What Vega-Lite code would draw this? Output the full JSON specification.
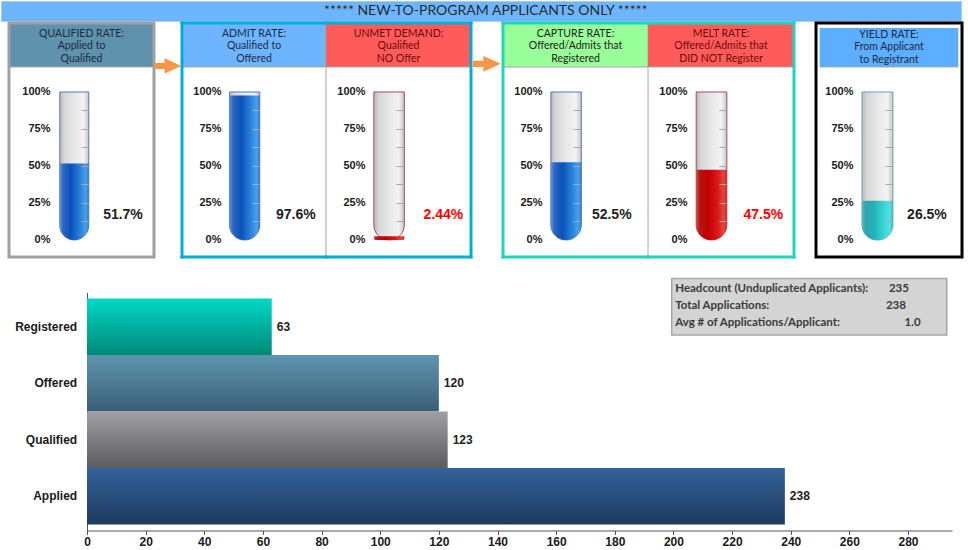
{
"$schema":"https://vega.github.io/schema/vega-lite/v6.json",
"padding":0,
"background":"white",
"config":{"view":{"stroke":null}},
"datasets":{
"rates":[
{"panel":"qualified","title":"QUALIFIED RATE:\nApplied to\nQualified","rate":0.5168},
{"panel":"admit","title":"ADMIT RATE:\nQualified to\nOffered","rate":0.9756},
{"panel":"unmet","title":"UNMET DEMAND:\nQualified\nNO Offer","rate":0.02439},
{"panel":"capture","title":"CAPTURE RATE:\nOffered/Admits that\nRegistered","rate":0.525},
{"panel":"melt","title":"MELT RATE:\nOffered/Admits that\nDID NOT Register","rate":0.475},
{"panel":"yield","title":"YIELD RATE:\nFrom Applicant\nto Registrant","rate":0.2647}
],
"funnel":[{"stage":"Registered","count":63},{"stage":"Offered","count":120},{"stage":"Qualified","count":123},{"stage":"Applied","count":238}],
"stats":[{"line":1,"label":"Headcount (Unduplicated Applicants):","value":"235"},{"line":2,"label":"Total Applications:","value":"238"},{"line":3,"label":"Avg # of Applications/Applicant:","value":"1.0"}]
},
"columns":1,
"spacing":17.5,
"align":"none",
"concat":[
{"spacing":2,"bounds":"flush","vconcat":[
{"width":960,"height":20,"view":{"fill":"#6DB6FF","stroke":"#A8CCEE"},"data":{"values":[{"banner":"***** NEW-TO-PROGRAM APPLICANTS ONLY *****"}]},"mark":{"type":"text","font":"Lato","fontSize":14,"color":"#2A2A2A","baseline":"middle"},"encoding":{"x":{"datum":0.505,"type":"quantitative","scale":{"domain":[0,1]},"axis":null},"y":{"datum":0.5,"type":"quantitative","scale":{"domain":[0,1]},"axis":null},"text":{"field":"banner"}}},
{"spacing":0,"bounds":"flush","hconcat":[
{"width":8,"height":234,"data":{"values":[{}]},"mark":{"type":"point","opacity":0},"encoding":{"x":{"datum":0.5,"type":"quantitative","scale":{"domain":[0,1]},"axis":null},"y":{"datum":0.5,"type":"quantitative","scale":{"domain":[0,1]},"axis":null}}},
{"width":145,"height":234,"data":{"name":"rates"},"transform":[{"filter":"datum.panel==='qualified'"}],"resolve":{"axis":{"y":"independent"}},"layer":[
{"mark":{"type":"rect","fill":"#5F93AD"},"encoding":{"x":{"datum":0,"type":"quantitative","scale":{"domain":[0,1],"nice":false,"zero":false},"axis":null},"x2":{"datum":1},"y":{"datum":1.169,"type":"quantitative","scale":{"domain":[-0.115,1.466],"nice":false,"zero":false},"axis":null},"y2":{"datum":1.466}}},
{"mark":{"type":"rule","stroke":"#A6A6A6","strokeWidth":1},"encoding":{"x":{"datum":0,"type":"quantitative","axis":null},"x2":{"datum":1},"y":{"datum":1.169,"type":"quantitative","axis":null}}},
{"mark":{"type":"text","font":"Lato","fontSize":10.5,"lineBreak":"\n","lineHeight":12.5,"color":"#1B2A40","align":"center","baseline":"middle"},"encoding":{"x":{"datum":0.5,"type":"quantitative","axis":null},"y":{"datum":1.392,"type":"quantitative","axis":null},"text":{"field":"title"}}},
{"mark":{"type":"rect","fill":{"gradient":"linear","x1":0,"y1":0,"x2":1,"y2":0,"stops":[{"offset":0,"color":"#B8B8B8"},{"offset":0.15,"color":"#D6D6D6"},{"offset":0.5,"color":"#E8E8E8"},{"offset":0.82,"color":"#F3F3F3"},{"offset":1,"color":"#C6C6C6"}]},"stroke":"#5877B8","strokeWidth":1,"cornerRadiusBottomLeft":15,"cornerRadiusBottomRight":15},"encoding":{"x":{"datum":0.35,"type":"quantitative","axis":null},"x2":{"datum":0.55},"y":{"datum":0,"type":"quantitative","axis":{"orient":"left","values":[0,0.25,0.5,0.75,1],"format":".0%","offset":-43,"domain":false,"ticks":false,"tickSize":0,"labelPadding":2,"grid":false,"title":null,"labelFont":"Liberation Sans","labelFontWeight":"bold","labelFontSize":11,"labelColor":"#1A1A1A"}},"y2":{"datum":1}}},
{"mark":{"type":"rect","fill":{"gradient":"linear","x1":0,"y1":0,"x2":1,"y2":0,"stops":[{"offset":0,"color":"#6A93D2"},{"offset":0.12,"color":"#2B66C3"},{"offset":0.38,"color":"#0A52B8"},{"offset":0.72,"color":"#2C84DC"},{"offset":0.9,"color":"#4AA1EC"},{"offset":1,"color":"#3579CC"}]},"cornerRadiusBottomLeft":15,"cornerRadiusBottomRight":15},"encoding":{"x":{"datum":0.35,"type":"quantitative","axis":null},"x2":{"datum":0.55},"y":{"datum":0,"type":"quantitative","axis":{"orient":"right","values":[0.125,0.25,0.375,0.5,0.625,0.75,0.875],"labels":false,"domain":false,"ticks":true,"tickSize":7,"tickColor":"#A8A8A8","tickWidth":1,"grid":false,"title":null,"offset":-73,"zindex":1}},"y2":{"field":"rate","type":"quantitative"}}},
{"mark":{"type":"text","font":"Liberation Sans","fontSize":14,"fontWeight":"bold","color":"#222222","align":"center","baseline":"middle"},"encoding":{"x":{"datum":0.786,"type":"quantitative","axis":null},"y":{"datum":0.169,"type":"quantitative","axis":null},"text":{"field":"rate","type":"quantitative","format":".3p"}}},
{"mark":{"type":"rect","fill":"transparent","stroke":"#A0A0A0","strokeWidth":3},"encoding":{"x":{"datum":0,"type":"quantitative","axis":null},"x2":{"datum":1},"y":{"datum":-0.115,"type":"quantitative","axis":null},"y2":{"datum":1.466}}}
]},
{"width":28,"height":234,"data":{"values":[{}]},"mark":{"type":"point","shape":"M-1,-0.22L-0.26,-0.22L-0.26,-0.56L1,0L-0.26,0.56L-0.26,0.22L-1,0.22Z","filled":true,"fill":"#F79646","opacity":1,"size":729,"strokeWidth":0},"encoding":{"x":{"datum":0.5,"type":"quantitative","scale":{"domain":[0,1]},"axis":null},"y":{"datum":1.176,"type":"quantitative","scale":{"domain":[-0.115,1.466],"nice":false,"zero":false},"axis":null}}},
{"width":144,"height":234,"data":{"name":"rates"},"transform":[{"filter":"datum.panel==='admit'"}],"resolve":{"axis":{"y":"independent"}},"layer":[
{"mark":{"type":"rect","fill":"#6DB5FF"},"encoding":{"x":{"datum":0,"type":"quantitative","scale":{"domain":[0,1],"nice":false,"zero":false},"axis":null},"x2":{"datum":1},"y":{"datum":1.169,"type":"quantitative","scale":{"domain":[-0.115,1.466],"nice":false,"zero":false},"axis":null},"y2":{"datum":1.466}}},
{"mark":{"type":"rule","stroke":"#A6A6A6","strokeWidth":1},"encoding":{"x":{"datum":0,"type":"quantitative","axis":null},"x2":{"datum":1},"y":{"datum":1.169,"type":"quantitative","axis":null}}},
{"mark":{"type":"text","font":"Lato","fontSize":10.5,"lineBreak":"\n","lineHeight":12.5,"color":"#1B2A40","align":"center","baseline":"middle"},"encoding":{"x":{"datum":0.5,"type":"quantitative","axis":null},"y":{"datum":1.392,"type":"quantitative","axis":null},"text":{"field":"title"}}},
{"mark":{"type":"rect","fill":{"gradient":"linear","x1":0,"y1":0,"x2":1,"y2":0,"stops":[{"offset":0,"color":"#B8B8B8"},{"offset":0.15,"color":"#D6D6D6"},{"offset":0.5,"color":"#E8E8E8"},{"offset":0.82,"color":"#F3F3F3"},{"offset":1,"color":"#C6C6C6"}]},"stroke":"#5877B8","strokeWidth":1,"cornerRadiusBottomLeft":15,"cornerRadiusBottomRight":15},"encoding":{"x":{"datum":0.33,"type":"quantitative","axis":null},"x2":{"datum":0.54},"y":{"datum":0,"type":"quantitative","axis":{"orient":"left","values":[0,0.25,0.5,0.75,1],"format":".0%","offset":-41,"domain":false,"ticks":false,"tickSize":0,"labelPadding":2,"grid":false,"title":null,"labelFont":"Liberation Sans","labelFontWeight":"bold","labelFontSize":11,"labelColor":"#1A1A1A"}},"y2":{"datum":1}}},
{"mark":{"type":"rect","fill":{"gradient":"linear","x1":0,"y1":0,"x2":1,"y2":0,"stops":[{"offset":0,"color":"#6A93D2"},{"offset":0.12,"color":"#2B66C3"},{"offset":0.38,"color":"#0A52B8"},{"offset":0.72,"color":"#2C84DC"},{"offset":0.9,"color":"#4AA1EC"},{"offset":1,"color":"#3579CC"}]},"cornerRadiusBottomLeft":15,"cornerRadiusBottomRight":15},"encoding":{"x":{"datum":0.33,"type":"quantitative","axis":null},"x2":{"datum":0.54},"y":{"datum":0,"type":"quantitative","axis":{"orient":"right","values":[0.125,0.25,0.375,0.5,0.625,0.75,0.875],"labels":false,"domain":false,"ticks":true,"tickSize":7,"tickColor":"#A8A8A8","tickWidth":1,"grid":false,"title":null,"offset":-74,"zindex":1}},"y2":{"field":"rate","type":"quantitative"}}},
{"mark":{"type":"text","font":"Liberation Sans","fontSize":14,"fontWeight":"bold","color":"#222222","align":"center","baseline":"middle"},"encoding":{"x":{"datum":0.79,"type":"quantitative","axis":null},"y":{"datum":0.169,"type":"quantitative","axis":null},"text":{"field":"rate","type":"quantitative","format":".3p"}}},
{"mark":{"type":"rule","stroke":"#00AEDC","strokeWidth":3,"strokeCap":"square"},"encoding":{"x":{"datum":0,"type":"quantitative","axis":null},"x2":{"datum":1},"y":{"datum":1.466,"type":"quantitative","axis":null}}},
{"mark":{"type":"rule","stroke":"#00AEDC","strokeWidth":3,"strokeCap":"square"},"encoding":{"x":{"datum":0,"type":"quantitative","axis":null},"x2":{"datum":1},"y":{"datum":-0.115,"type":"quantitative","axis":null}}},
{"mark":{"type":"rule","stroke":"#00AEDC","strokeWidth":3,"strokeCap":"square"},"encoding":{"x":{"datum":0,"type":"quantitative","axis":null},"y":{"datum":-0.115,"type":"quantitative","axis":null},"y2":{"datum":1.466}}},
{"mark":{"type":"rule","stroke":"#A6A6A6","strokeWidth":1},"encoding":{"x":{"datum":1,"type":"quantitative","axis":null},"y":{"datum":-0.115,"type":"quantitative","axis":null},"y2":{"datum":1.466}}}
]},
{"width":145,"height":234,"data":{"name":"rates"},"transform":[{"filter":"datum.panel==='unmet'"}],"resolve":{"axis":{"y":"independent"}},"layer":[
{"mark":{"type":"rect","fill":"#FF5B5B"},"encoding":{"x":{"datum":0,"type":"quantitative","scale":{"domain":[0,1],"nice":false,"zero":false},"axis":null},"x2":{"datum":1},"y":{"datum":1.169,"type":"quantitative","scale":{"domain":[-0.115,1.466],"nice":false,"zero":false},"axis":null},"y2":{"datum":1.466}}},
{"mark":{"type":"rule","stroke":"#A6A6A6","strokeWidth":1},"encoding":{"x":{"datum":0,"type":"quantitative","axis":null},"x2":{"datum":1},"y":{"datum":1.169,"type":"quantitative","axis":null}}},
{"mark":{"type":"text","font":"Lato","fontSize":10.5,"lineBreak":"\n","lineHeight":12.5,"color":"#6B0A0A","align":"center","baseline":"middle"},"encoding":{"x":{"datum":0.5,"type":"quantitative","axis":null},"y":{"datum":1.392,"type":"quantitative","axis":null},"text":{"field":"title"}}},
{"mark":{"type":"rect","fill":{"gradient":"linear","x1":0,"y1":0,"x2":1,"y2":0,"stops":[{"offset":0,"color":"#B8B8B8"},{"offset":0.15,"color":"#D6D6D6"},{"offset":0.5,"color":"#E8E8E8"},{"offset":0.82,"color":"#F3F3F3"},{"offset":1,"color":"#C6C6C6"}]},"stroke":"#B04848","strokeWidth":1,"cornerRadiusBottomLeft":15,"cornerRadiusBottomRight":15},"encoding":{"x":{"datum":0.33,"type":"quantitative","axis":null},"x2":{"datum":0.54},"y":{"datum":0,"type":"quantitative","axis":{"orient":"left","values":[0,0.25,0.5,0.75,1],"format":".0%","offset":-41,"domain":false,"ticks":false,"tickSize":0,"labelPadding":2,"grid":false,"title":null,"labelFont":"Liberation Sans","labelFontWeight":"bold","labelFontSize":11,"labelColor":"#1A1A1A"}},"y2":{"datum":1}}},
{"mark":{"type":"rect","fill":{"gradient":"linear","x1":0,"y1":0,"x2":1,"y2":0,"stops":[{"offset":0,"color":"#CC5050"},{"offset":0.12,"color":"#B51515"},{"offset":0.38,"color":"#C00000"},{"offset":0.72,"color":"#DC1C1C"},{"offset":0.9,"color":"#E84444"},{"offset":1,"color":"#C42828"}]},"cornerRadiusBottomLeft":15,"cornerRadiusBottomRight":15},"encoding":{"x":{"datum":0.33,"type":"quantitative","axis":null},"x2":{"datum":0.54},"y":{"datum":0,"type":"quantitative","axis":{"orient":"right","values":[0.125,0.25,0.375,0.5,0.625,0.75,0.875],"labels":false,"domain":false,"ticks":true,"tickSize":7,"tickColor":"#A8A8A8","tickWidth":1,"grid":false,"title":null,"offset":-75,"zindex":1}},"y2":{"field":"rate","type":"quantitative"}}},
{"mark":{"type":"text","font":"Liberation Sans","fontSize":14,"fontWeight":"bold","color":"#FF0000","align":"center","baseline":"middle"},"encoding":{"x":{"datum":0.81,"type":"quantitative","axis":null},"y":{"datum":0.169,"type":"quantitative","axis":null},"text":{"field":"rate","type":"quantitative","format":".3p"}}},
{"mark":{"type":"rule","stroke":"#00AEDC","strokeWidth":3,"strokeCap":"square"},"encoding":{"x":{"datum":0,"type":"quantitative","axis":null},"x2":{"datum":1},"y":{"datum":1.466,"type":"quantitative","axis":null}}},
{"mark":{"type":"rule","stroke":"#00AEDC","strokeWidth":3,"strokeCap":"square"},"encoding":{"x":{"datum":0,"type":"quantitative","axis":null},"x2":{"datum":1},"y":{"datum":-0.115,"type":"quantitative","axis":null}}},
{"mark":{"type":"rule","stroke":"#00AEDC","strokeWidth":3,"strokeCap":"square"},"encoding":{"x":{"datum":1,"type":"quantitative","axis":null},"y":{"datum":-0.115,"type":"quantitative","axis":null},"y2":{"datum":1.466}}}
]},
{"width":32,"height":234,"data":{"values":[{}]},"mark":{"type":"point","shape":"M-1,-0.22L-0.26,-0.22L-0.26,-0.56L1,0L-0.26,0.56L-0.26,0.22L-1,0.22Z","filled":true,"fill":"#F79646","opacity":1,"size":784,"strokeWidth":0},"encoding":{"x":{"datum":0.5,"type":"quantitative","scale":{"domain":[0,1]},"axis":null},"y":{"datum":1.19,"type":"quantitative","scale":{"domain":[-0.115,1.466],"nice":false,"zero":false},"axis":null}}},
{"width":145,"height":234,"data":{"name":"rates"},"transform":[{"filter":"datum.panel==='capture'"}],"resolve":{"axis":{"y":"independent"}},"layer":[
{"mark":{"type":"rect","fill":"#99FF99"},"encoding":{"x":{"datum":0,"type":"quantitative","scale":{"domain":[0,1],"nice":false,"zero":false},"axis":null},"x2":{"datum":1},"y":{"datum":1.169,"type":"quantitative","scale":{"domain":[-0.115,1.466],"nice":false,"zero":false},"axis":null},"y2":{"datum":1.466}}},
{"mark":{"type":"rule","stroke":"#A6A6A6","strokeWidth":1},"encoding":{"x":{"datum":0,"type":"quantitative","axis":null},"x2":{"datum":1},"y":{"datum":1.169,"type":"quantitative","axis":null}}},
{"mark":{"type":"text","font":"Lato","fontSize":10.5,"lineBreak":"\n","lineHeight":12.5,"color":"#1A1A1A","align":"center","baseline":"middle"},"encoding":{"x":{"datum":0.5,"type":"quantitative","axis":null},"y":{"datum":1.392,"type":"quantitative","axis":null},"text":{"field":"title"}}},
{"mark":{"type":"rect","fill":{"gradient":"linear","x1":0,"y1":0,"x2":1,"y2":0,"stops":[{"offset":0,"color":"#B8B8B8"},{"offset":0.15,"color":"#D6D6D6"},{"offset":0.5,"color":"#E8E8E8"},{"offset":0.82,"color":"#F3F3F3"},{"offset":1,"color":"#C6C6C6"}]},"stroke":"#5877B8","strokeWidth":1,"cornerRadiusBottomLeft":15,"cornerRadiusBottomRight":15},"encoding":{"x":{"datum":0.33,"type":"quantitative","axis":null},"x2":{"datum":0.54},"y":{"datum":0,"type":"quantitative","axis":{"orient":"left","values":[0,0.25,0.5,0.75,1],"format":".0%","offset":-41,"domain":false,"ticks":false,"tickSize":0,"labelPadding":2,"grid":false,"title":null,"labelFont":"Liberation Sans","labelFontWeight":"bold","labelFontSize":11,"labelColor":"#1A1A1A"}},"y2":{"datum":1}}},
{"mark":{"type":"rect","fill":{"gradient":"linear","x1":0,"y1":0,"x2":1,"y2":0,"stops":[{"offset":0,"color":"#6A93D2"},{"offset":0.12,"color":"#2B66C3"},{"offset":0.38,"color":"#0A52B8"},{"offset":0.72,"color":"#2C84DC"},{"offset":0.9,"color":"#4AA1EC"},{"offset":1,"color":"#3579CC"}]},"cornerRadiusBottomLeft":15,"cornerRadiusBottomRight":15},"encoding":{"x":{"datum":0.33,"type":"quantitative","axis":null},"x2":{"datum":0.54},"y":{"datum":0,"type":"quantitative","axis":{"orient":"right","values":[0.125,0.25,0.375,0.5,0.625,0.75,0.875],"labels":false,"domain":false,"ticks":true,"tickSize":7,"tickColor":"#A8A8A8","tickWidth":1,"grid":false,"title":null,"offset":-75,"zindex":1}},"y2":{"field":"rate","type":"quantitative"}}},
{"mark":{"type":"text","font":"Liberation Sans","fontSize":14,"fontWeight":"bold","color":"#222222","align":"center","baseline":"middle"},"encoding":{"x":{"datum":0.75,"type":"quantitative","axis":null},"y":{"datum":0.169,"type":"quantitative","axis":null},"text":{"field":"rate","type":"quantitative","format":".3p"}}},
{"mark":{"type":"rule","stroke":"#1ED6C0","strokeWidth":3,"strokeCap":"square"},"encoding":{"x":{"datum":0,"type":"quantitative","axis":null},"x2":{"datum":1},"y":{"datum":1.466,"type":"quantitative","axis":null}}},
{"mark":{"type":"rule","stroke":"#1ED6C0","strokeWidth":3,"strokeCap":"square"},"encoding":{"x":{"datum":0,"type":"quantitative","axis":null},"x2":{"datum":1},"y":{"datum":-0.115,"type":"quantitative","axis":null}}},
{"mark":{"type":"rule","stroke":"#1ED6C0","strokeWidth":3,"strokeCap":"square"},"encoding":{"x":{"datum":0,"type":"quantitative","axis":null},"y":{"datum":-0.115,"type":"quantitative","axis":null},"y2":{"datum":1.466}}},
{"mark":{"type":"rule","stroke":"#A6A6A6","strokeWidth":1},"encoding":{"x":{"datum":1,"type":"quantitative","axis":null},"y":{"datum":-0.115,"type":"quantitative","axis":null},"y2":{"datum":1.466}}}
]},
{"width":146,"height":234,"data":{"name":"rates"},"transform":[{"filter":"datum.panel==='melt'"}],"resolve":{"axis":{"y":"independent"}},"layer":[
{"mark":{"type":"rect","fill":"#FF5B5B"},"encoding":{"x":{"datum":0,"type":"quantitative","scale":{"domain":[0,1],"nice":false,"zero":false},"axis":null},"x2":{"datum":1},"y":{"datum":1.169,"type":"quantitative","scale":{"domain":[-0.115,1.466],"nice":false,"zero":false},"axis":null},"y2":{"datum":1.466}}},
{"mark":{"type":"rule","stroke":"#A6A6A6","strokeWidth":1},"encoding":{"x":{"datum":0,"type":"quantitative","axis":null},"x2":{"datum":1},"y":{"datum":1.169,"type":"quantitative","axis":null}}},
{"mark":{"type":"text","font":"Lato","fontSize":10.5,"lineBreak":"\n","lineHeight":12.5,"color":"#6B0A0A","align":"center","baseline":"middle"},"encoding":{"x":{"datum":0.5,"type":"quantitative","axis":null},"y":{"datum":1.392,"type":"quantitative","axis":null},"text":{"field":"title"}}},
{"mark":{"type":"rect","fill":{"gradient":"linear","x1":0,"y1":0,"x2":1,"y2":0,"stops":[{"offset":0,"color":"#B8B8B8"},{"offset":0.15,"color":"#D6D6D6"},{"offset":0.5,"color":"#E8E8E8"},{"offset":0.82,"color":"#F3F3F3"},{"offset":1,"color":"#C6C6C6"}]},"stroke":"#B04848","strokeWidth":1,"cornerRadiusBottomLeft":15,"cornerRadiusBottomRight":15},"encoding":{"x":{"datum":0.33,"type":"quantitative","axis":null},"x2":{"datum":0.54},"y":{"datum":0,"type":"quantitative","axis":{"orient":"left","values":[0,0.25,0.5,0.75,1],"format":".0%","offset":-41,"domain":false,"ticks":false,"tickSize":0,"labelPadding":2,"grid":false,"title":null,"labelFont":"Liberation Sans","labelFontWeight":"bold","labelFontSize":11,"labelColor":"#1A1A1A"}},"y2":{"datum":1}}},
{"mark":{"type":"rect","fill":{"gradient":"linear","x1":0,"y1":0,"x2":1,"y2":0,"stops":[{"offset":0,"color":"#CC5050"},{"offset":0.12,"color":"#B51515"},{"offset":0.38,"color":"#C00000"},{"offset":0.72,"color":"#DC1C1C"},{"offset":0.9,"color":"#E84444"},{"offset":1,"color":"#C42828"}]},"cornerRadiusBottomLeft":15,"cornerRadiusBottomRight":15},"encoding":{"x":{"datum":0.33,"type":"quantitative","axis":null},"x2":{"datum":0.54},"y":{"datum":0,"type":"quantitative","axis":{"orient":"right","values":[0.125,0.25,0.375,0.5,0.625,0.75,0.875],"labels":false,"domain":false,"ticks":true,"tickSize":7,"tickColor":"#A8A8A8","tickWidth":1,"grid":false,"title":null,"offset":-75,"zindex":1}},"y2":{"field":"rate","type":"quantitative"}}},
{"mark":{"type":"text","font":"Liberation Sans","fontSize":14,"fontWeight":"bold","color":"#FF0000","align":"center","baseline":"middle"},"encoding":{"x":{"datum":0.79,"type":"quantitative","axis":null},"y":{"datum":0.169,"type":"quantitative","axis":null},"text":{"field":"rate","type":"quantitative","format":".3p"}}},
{"mark":{"type":"rule","stroke":"#1ED6C0","strokeWidth":3,"strokeCap":"square"},"encoding":{"x":{"datum":0,"type":"quantitative","axis":null},"x2":{"datum":1},"y":{"datum":1.466,"type":"quantitative","axis":null}}},
{"mark":{"type":"rule","stroke":"#1ED6C0","strokeWidth":3,"strokeCap":"square"},"encoding":{"x":{"datum":0,"type":"quantitative","axis":null},"x2":{"datum":1},"y":{"datum":-0.115,"type":"quantitative","axis":null}}},
{"mark":{"type":"rule","stroke":"#1ED6C0","strokeWidth":3,"strokeCap":"square"},"encoding":{"x":{"datum":1,"type":"quantitative","axis":null},"y":{"datum":-0.115,"type":"quantitative","axis":null},"y2":{"datum":1.466}}}
]},
{"width":22,"height":234,"data":{"values":[{}]},"mark":{"type":"point","opacity":0},"encoding":{"x":{"datum":0.5,"type":"quantitative","scale":{"domain":[0,1]},"axis":null},"y":{"datum":0.5,"type":"quantitative","scale":{"domain":[0,1]},"axis":null}}},
{"width":146,"height":234,"data":{"name":"rates"},"transform":[{"filter":"datum.panel==='yield'"}],"resolve":{"axis":{"y":"independent"}},"layer":[
{"mark":{"type":"rect","fill":"#5CAEFF"},"encoding":{"x":{"datum":0.025,"type":"quantitative","scale":{"domain":[0,1],"nice":false,"zero":false},"axis":null},"x2":{"datum":0.975},"y":{"datum":1.169,"type":"quantitative","scale":{"domain":[-0.115,1.466],"nice":false,"zero":false},"axis":null},"y2":{"datum":1.432}}},
{"mark":{"type":"rule","stroke":"#A6A6A6","strokeWidth":1},"encoding":{"x":{"datum":0.025,"type":"quantitative","axis":null},"x2":{"datum":0.975},"y":{"datum":1.169,"type":"quantitative","axis":null}}},
{"mark":{"type":"text","font":"Lato","fontSize":10.5,"lineBreak":"\n","lineHeight":12.5,"color":"#1B2A40","align":"center","baseline":"middle"},"encoding":{"x":{"datum":0.5,"type":"quantitative","axis":null},"y":{"datum":1.385,"type":"quantitative","axis":null},"text":{"field":"title"}}},
{"mark":{"type":"rect","fill":{"gradient":"linear","x1":0,"y1":0,"x2":1,"y2":0,"stops":[{"offset":0,"color":"#B8B8B8"},{"offset":0.15,"color":"#D6D6D6"},{"offset":0.5,"color":"#E8E8E8"},{"offset":0.82,"color":"#F3F3F3"},{"offset":1,"color":"#C6C6C6"}]},"stroke":"#5FA5B5","strokeWidth":1,"cornerRadiusBottomLeft":15,"cornerRadiusBottomRight":15},"encoding":{"x":{"datum":0.315,"type":"quantitative","axis":null},"x2":{"datum":0.527},"y":{"datum":0,"type":"quantitative","axis":{"orient":"left","values":[0,0.25,0.5,0.75,1],"format":".0%","offset":-39,"domain":false,"ticks":false,"tickSize":0,"labelPadding":2,"grid":false,"title":null,"labelFont":"Liberation Sans","labelFontWeight":"bold","labelFontSize":11,"labelColor":"#1A1A1A"}},"y2":{"datum":1}}},
{"mark":{"type":"rect","fill":{"gradient":"linear","x1":0,"y1":0,"x2":1,"y2":0,"stops":[{"offset":0,"color":"#62B2BB"},{"offset":0.12,"color":"#2FA6AF"},{"offset":0.38,"color":"#22B2B7"},{"offset":0.72,"color":"#3AD6D6"},{"offset":0.9,"color":"#55E2E2"},{"offset":1,"color":"#3BB9C1"}]},"cornerRadiusBottomLeft":15,"cornerRadiusBottomRight":15},"encoding":{"x":{"datum":0.315,"type":"quantitative","axis":null},"x2":{"datum":0.527},"y":{"datum":0,"type":"quantitative","axis":{"orient":"right","values":[0.125,0.25,0.375,0.5,0.625,0.75,0.875],"labels":false,"domain":false,"ticks":true,"tickSize":7,"tickColor":"#A8A8A8","tickWidth":1,"grid":false,"title":null,"offset":-77,"zindex":1}},"y2":{"field":"rate","type":"quantitative"}}},
{"mark":{"type":"text","font":"Liberation Sans","fontSize":14,"fontWeight":"bold","color":"#222222","align":"center","baseline":"middle"},"encoding":{"x":{"datum":0.76,"type":"quantitative","axis":null},"y":{"datum":0.169,"type":"quantitative","axis":null},"text":{"field":"rate","type":"quantitative","format":".3p"}}},
{"mark":{"type":"rect","fill":"transparent","stroke":"#000000","strokeWidth":3},"encoding":{"x":{"datum":0,"type":"quantitative","axis":null},"x2":{"datum":1},"y":{"datum":-0.115,"type":"quantitative","axis":null},"y2":{"datum":1.466}}}
]}
]}
]},
{"spacing":0,"bounds":"flush","hconcat":[
{"width":86,"height":238,"data":{"name":"funnel"},"mark":{"type":"text","align":"right","baseline":"middle","font":"Liberation Sans","fontWeight":"bold","fontSize":12,"color":"#1A1A1A"},"encoding":{"x":{"datum":0.886,"type":"quantitative","scale":{"domain":[0,1]},"axis":null},"y":{"field":"stage","type":"nominal","scale":{"type":"band","domain":["Registered","Offered","Qualified","Applied"],"paddingInner":0,"paddingOuter":0.106},"axis":null},"text":{"field":"stage"}}},
{"width":865,"height":238,"layer":[
{"data":{"name":"funnel"},"mark":{"type":"bar"},"encoding":{
"y":{"field":"stage","type":"nominal","scale":{"domain":["Registered","Offered","Qualified","Applied"],"paddingInner":0,"paddingOuter":0.106},"axis":{"title":null,"labels":false,"domain":true,"domainColor":"#555555","ticks":false,"minExtent":0,"maxExtent":0}},
"x":{"field":"count","type":"quantitative","scale":{"domain":[0,295],"nice":false},"axis":{"title":null,"values":[0,20,40,60,80,100,120,140,160,180,200,220,240,260,280],"grid":false,"domainColor":"#555555","tickColor":"#555555","tickSize":4,"labelFont":"Liberation Sans","labelFontWeight":"bold","labelFontSize":12,"labelColor":"#1A1A1A","labelPadding":2,"labelFlush":false}},
"color":{"condition":[
{"test":"datum.stage==='Registered'","value":{"gradient":"linear","x1":0,"y1":0,"x2":0,"y2":1,"stops":[{"offset":0,"color":"#00D9C5"},{"offset":1,"color":"#008878"}]}},
{"test":"datum.stage==='Offered'","value":{"gradient":"linear","x1":0,"y1":0,"x2":0,"y2":1,"stops":[{"offset":0,"color":"#5F95B0"},{"offset":1,"color":"#3A5E74"}]}},
{"test":"datum.stage==='Qualified'","value":{"gradient":"linear","x1":0,"y1":0,"x2":0,"y2":1,"stops":[{"offset":0,"color":"#A0A0A4"},{"offset":1,"color":"#5C5C60"}]}}
],"value":{"gradient":"linear","x1":0,"y1":0,"x2":0,"y2":1,"stops":[{"offset":0,"color":"#33629A"},{"offset":1,"color":"#1E3A5E"}]}}
}},
{"data":{"name":"funnel"},"mark":{"type":"text","align":"left","baseline":"middle","dx":5,"font":"Liberation Sans","fontWeight":"bold","fontSize":12,"color":"#222222"},"encoding":{"y":{"field":"stage","type":"nominal"},"x":{"field":"count","type":"quantitative"},"text":{"field":"count","type":"quantitative"}}},
{"data":{"name":"stats"},"transform":[{"filter":"datum.line===1"}],"mark":{"type":"rect","fill":"#D4D4D4","stroke":"#A6A6A6","strokeWidth":1.5,"yOffset":-20,"y2Offset":-20},"encoding":{"x":{"datum":199.4,"type":"quantitative"},"x2":{"datum":293.2},"y":{"datum":"Registered","type":"nominal"}}},
{"data":{"name":"stats"},"transform":[{"filter":"datum.line===1"}],"mark":{"type":"text","align":"left","baseline":"middle","font":"Lato","fontSize":11.5,"fontWeight":"bold","color":"#3A3A3A","dy":-38},"encoding":{"x":{"datum":200.6,"type":"quantitative"},"y":{"datum":"Registered","type":"nominal"},"text":{"field":"label"}}},
{"data":{"name":"stats"},"transform":[{"filter":"datum.line===2"}],"mark":{"type":"text","align":"left","baseline":"middle","font":"Lato","fontSize":11.5,"fontWeight":"bold","color":"#3A3A3A","dy":-21},"encoding":{"x":{"datum":200.6,"type":"quantitative"},"y":{"datum":"Registered","type":"nominal"},"text":{"field":"label"}}},
{"data":{"name":"stats"},"transform":[{"filter":"datum.line===3"}],"mark":{"type":"text","align":"left","baseline":"middle","font":"Lato","fontSize":11.5,"fontWeight":"bold","color":"#3A3A3A","dy":-4},"encoding":{"x":{"datum":200.6,"type":"quantitative"},"y":{"datum":"Registered","type":"nominal"},"text":{"field":"label"}}},
{"data":{"name":"stats"},"transform":[{"filter":"datum.line===1"}],"mark":{"type":"text","align":"right","baseline":"middle","font":"Lato","fontSize":11.5,"fontWeight":"bold","color":"#3A3A3A","dy":-38},"encoding":{"x":{"datum":280.3,"type":"quantitative"},"y":{"datum":"Registered","type":"nominal"},"text":{"field":"value"}}},
{"data":{"name":"stats"},"transform":[{"filter":"datum.line===2"}],"mark":{"type":"text","align":"right","baseline":"middle","font":"Lato","fontSize":11.5,"fontWeight":"bold","color":"#3A3A3A","dy":-21},"encoding":{"x":{"datum":279.3,"type":"quantitative"},"y":{"datum":"Registered","type":"nominal"},"text":{"field":"value"}}},
{"data":{"name":"stats"},"transform":[{"filter":"datum.line===3"}],"mark":{"type":"text","align":"right","baseline":"middle","font":"Lato","fontSize":11.5,"fontWeight":"bold","color":"#3A3A3A","dy":-4},"encoding":{"x":{"datum":284.3,"type":"quantitative"},"y":{"datum":"Registered","type":"nominal"},"text":{"field":"value"}}}
]}
]}
]
}
